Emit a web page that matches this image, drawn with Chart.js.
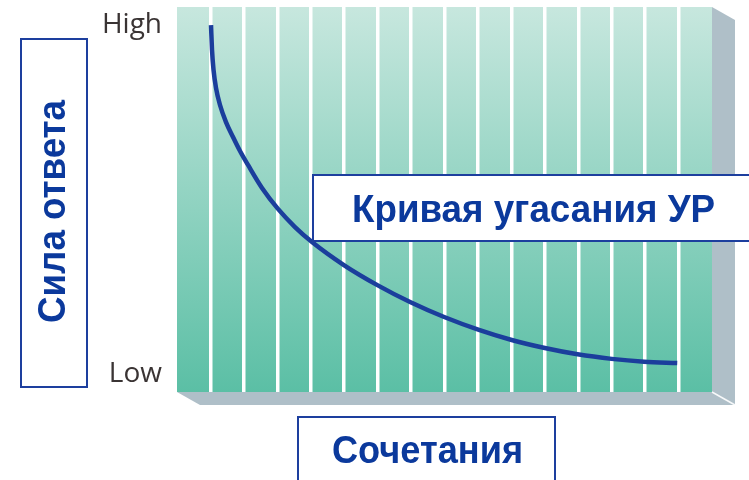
<!DOCTYPE html>
<html>
<head>
<meta charset="utf-8">
<script src="https://cdn.jsdelivr.net/npm/chart.js@4.4.1/dist/chart.umd.min.js"></script>
<style>
  html, body { margin: 0; padding: 0; background: #ffffff; }
  canvas { display: block; }
</style>
</head>
<body>
<canvas id="chart" width="749" height="480"></canvas>
<script>
// Extinction curve: response strength over successive pairings
const trials   = [1.017, 1.047, 1.092, 1.166, 1.286, 1.465, 1.675, 1.884, 2.123, 2.542, 3.02, 3.529, 4.037,
                  4.99, 6.02, 6.97, 7.99, 9.03, 10.01, 11.0, 11.98, 13.0, 13.97, 14.96];
const strength = [10.0, 9.29, 8.72, 8.20, 7.71, 7.22, 6.79, 6.39, 5.99, 5.33, 4.73, 4.21, 3.78,
                  3.12, 2.53, 2.06, 1.63, 1.26, 0.97, 0.74, 0.56, 0.43, 0.35, 0.31];
const tickValues = [0, 10];
const tickLabels = ['Low', 'High'];
const columnCount = 16;
const yTitle = 'Сила ответа';
const xTitle = 'Сочетания';
const curveTitle = 'Кривая угасания УР';

const BLUE_TEXT = '#0b399c';
const BLUE_LINE = '#1d3f9e';
const TITLE_FONT = 'bold 39px "Liberation Sans", Arial, sans-serif';

// Green panel with a grey extruded edge behind it
const panel = {
  id: 'panel',
  beforeDraw(chart) {
    const { ctx, chartArea: a } = chart;
    const dx = 23, dy = 13;
    ctx.save();
    ctx.fillStyle = '#afbfc8';
    ctx.beginPath();
    ctx.moveTo(a.left, a.bottom);
    ctx.lineTo(a.left + dx, a.bottom + dy);
    ctx.lineTo(a.right + dx, a.bottom + dy);
    ctx.lineTo(a.right + dx, a.top + dy);
    ctx.lineTo(a.right, a.top);
    ctx.closePath();
    ctx.fill();
    ctx.strokeStyle = 'rgba(255,255,255,0.9)';
    ctx.lineWidth = 1.5;
    ctx.beginPath();
    ctx.moveTo(a.right, a.bottom);
    ctx.lineTo(a.right + dx, a.bottom + dy);
    ctx.stroke();
    const g = ctx.createLinearGradient(0, a.top, 0, a.bottom);
    g.addColorStop(0, '#c7e7de');
    g.addColorStop(1, '#5bbfa5');
    ctx.fillStyle = g;
    ctx.fillRect(a.left, a.top, a.width, a.height);
    ctx.restore();
  }
};

// Draws text centred on cx with its baseline at y, squeezed to a given width
function fittedText(ctx, text, cx, y, width) {
  const w = ctx.measureText(text).width;
  ctx.save();
  ctx.translate(cx, y);
  ctx.scale(width / w, 1);
  ctx.fillText(text, 0, 0);
  ctx.restore();
}

function box(ctx, x, y, w, h) {
  ctx.fillStyle = '#ffffff';
  ctx.fillRect(x, y, w, h);
  ctx.strokeStyle = BLUE_LINE;
  ctx.lineWidth = 2;
  ctx.strokeRect(x, y, w, h);
}

// Framed titles for the axes and the curve
const titles = {
  id: 'titles',
  afterDraw(chart) {
    const ctx = chart.ctx;
    ctx.save();
    ctx.font = TITLE_FONT;
    ctx.textAlign = 'center';
    ctx.textBaseline = 'alphabetic';

    box(ctx, 21, 39, 66, 348);
    ctx.fillStyle = BLUE_TEXT;
    ctx.save();
    ctx.translate(65, 211.5);
    ctx.rotate(-Math.PI / 2);
    fittedText(ctx, yTitle, 0, 0, 223);
    ctx.restore();

    box(ctx, 313, 175, 460, 66);
    ctx.fillStyle = BLUE_TEXT;
    fittedText(ctx, curveTitle, 533.5, 221.5, 363);

    box(ctx, 298, 417, 257, 80);
    ctx.fillStyle = BLUE_TEXT;
    fittedText(ctx, xTitle, 427.5, 462.5, 191);
    ctx.restore();
  }
};

new Chart(document.getElementById('chart'), {
  type: 'line',
  data: {
    datasets: [{
      data: trials.map((x, i) => ({ x: x, y: strength[i] })),
      borderColor: '#1b3e9c',
      borderWidth: 4.5,
      pointRadius: 0,
      cubicInterpolationMode: 'monotone',
      fill: false
    }]
  },
  options: {
    responsive: false,
    animation: false,
    layout: { padding: { left: 77, right: 37, top: 7, bottom: 88 } },
    plugins: { legend: { display: false }, tooltip: { enabled: false } },
    scales: {
      x: {
        type: 'linear',
        min: 0,
        max: columnCount,
        ticks: { display: false, stepSize: 1 },
        border: { display: false },
        grid: {
          drawTicks: false,
          lineWidth: 3.5,
          color: c => (c.tick && (c.tick.value === 0 || c.tick.value === columnCount))
            ? 'rgba(0,0,0,0)' : '#ffffff'
        },
        afterFit: s => { s.height = 0; s.paddingLeft = 0; s.paddingRight = 0; }
      },
      y: {
        min: -0.52,
        max: 10.52,
        afterBuildTicks: s => { s.ticks = tickValues.map(v => ({ value: v })); },
        afterFit: s => { s.width = 100; s.paddingTop = 0; s.paddingBottom = 0; },
        ticks: {
          callback: v => tickLabels[tickValues.indexOf(v)],
          padding: 15,
          color: '#3a3434',
          font: { family: '"Open Sans", sans-serif', size: 28 }
        },
        grid: { display: false, drawTicks: false },
        border: { display: false }
      }
    }
  },
  plugins: [panel, titles]
});
</script>
</body>
</html>
